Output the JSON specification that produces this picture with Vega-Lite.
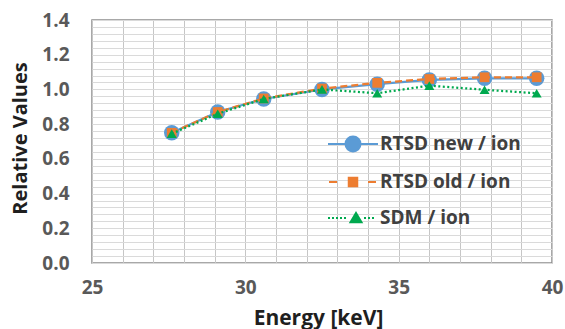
{
  "$schema": "https://vega.github.io/schema/vega-lite/v6.json",
  "width": 460,
  "height": 243,
  "autosize": "none",
  "padding": {"left": 92, "top": 20, "right": 13, "bottom": 66},
  "background": "white",
  "config": {"view": {"stroke": "#8c8c8c", "strokeWidth": 1.5}, "font": "Open Sans"},
  "data": {
    "values": [
      {"series": "RTSD new / ion", "energy": 27.6, "value": 0.75},
      {"series": "RTSD new / ion", "energy": 29.1, "value": 0.87},
      {"series": "RTSD new / ion", "energy": 30.6, "value": 0.945},
      {"series": "RTSD new / ion", "energy": 32.5, "value": 1.0},
      {"series": "RTSD new / ion", "energy": 34.3, "value": 1.03},
      {"series": "RTSD new / ion", "energy": 36.0, "value": 1.055},
      {"series": "RTSD new / ion", "energy": 37.8, "value": 1.064},
      {"series": "RTSD new / ion", "energy": 39.5, "value": 1.064},
      {"series": "RTSD old / ion", "energy": 27.6, "value": 0.75},
      {"series": "RTSD old / ion", "energy": 29.1, "value": 0.87},
      {"series": "RTSD old / ion", "energy": 30.6, "value": 0.948},
      {"series": "RTSD old / ion", "energy": 32.5, "value": 1.005},
      {"series": "RTSD old / ion", "energy": 34.3, "value": 1.038},
      {"series": "RTSD old / ion", "energy": 36.0, "value": 1.06},
      {"series": "RTSD old / ion", "energy": 37.8, "value": 1.07},
      {"series": "RTSD old / ion", "energy": 39.5, "value": 1.07},
      {"series": "SDM / ion", "energy": 27.6, "value": 0.745},
      {"series": "SDM / ion", "energy": 29.1, "value": 0.86},
      {"series": "SDM / ion", "energy": 30.6, "value": 0.945},
      {"series": "SDM / ion", "energy": 32.5, "value": 1.0},
      {"series": "SDM / ion", "energy": 34.3, "value": 0.978},
      {"series": "SDM / ion", "energy": 36.0, "value": 1.022},
      {"series": "SDM / ion", "energy": 37.8, "value": 0.998},
      {"series": "SDM / ion", "energy": 39.5, "value": 0.978}
    ]
  },
  "resolve": {"axis": {"x": "independent", "y": "independent"}},
  "encoding": {
    "x": {"field": "energy", "type": "quantitative", "scale": {"domain": [25, 40], "nice": false, "zero": false}, "axis": null},
    "y": {"field": "value", "type": "quantitative", "scale": {"domain": [0, 1.4], "nice": false}, "axis": null},
    "color": {
      "field": "series",
      "type": "nominal",
      "scale": {"domain": ["RTSD new / ion", "RTSD old / ion", "SDM / ion"], "range": ["#5B9BD5", "#ED7D31", "#00A94F"]},
      "legend": {
        "orient": "none",
        "legendX": 235,
        "legendY": 98,
        "title": null,
        "padding": 0,
        "symbolSize": 2500,
        "symbolStrokeWidth": 2,
        "labelFont": "Open Sans",
        "labelFontSize": 19,
        "labelFontWeight": "bold",
        "labelColor": "#404040",
        "labelOffset": 1,
        "rowPadding": -21,
        "encode": {
          "symbols": {
            "update": {
              "shape": {"signal": "datum.value === 'RTSD new / ion' ? 'M-1,0H1M-0.3,0A0.3,0.3 0 1,0 0.3,0A0.3,0.3 0 1,0 -0.3,0Z' : datum.value === 'RTSD old / ion' ? 'M-0.96,0H-0.64M0.6,0H0.92M-0.17,-0.17H0.17V0.17H-0.17Z' : 'M-1,0H-0.92M-0.84,0H-0.76M-0.68,0H-0.6M-0.52,0H-0.44M-0.36,0H-0.28M0.44,0H0.52M0.6,0H0.68M0.76,0H0.84M0.12,-0.2L0.34,0.17H-0.1Z'"},
              "stroke": {"signal": "scale('color', datum.value)"},
              "fill": {"signal": "scale('color', datum.value)"},
              "strokeWidth": {"value": 2},
              "strokeDash": {"value": []},
              "size": {"value": 2500},
              "opacity": {"value": 1}
            }
          }
        }
      }
    }
  },
  "layer": [
    {
      "transform": [{"filter": "datum.series === 'RTSD new / ion'"}],
      "mark": {"type": "line", "strokeWidth": 2.25},
      "encoding": {
        "x": {
          "field": "energy", "type": "quantitative", "scale": {"domain": [25, 40], "nice": false, "zero": false},
          "axis": {
            "orient": "bottom",
            "values": [25, 30, 35, 40],
            "format": "d",
            "labelFlush": false,
            "labelOverlap": false,
            "grid": true, "gridColor": "#c6c6c6",
            "ticks": false, "domain": false,
            "labelPadding": 15,
            "labelFont": "Open Sans",
            "labelFontSize": 19,
            "labelFontWeight": "bold",
            "labelColor": "#595959",
            "title": "Energy [keV]",
            "titleFont": "Open Sans",
            "titleFontSize": 21,
            "titleFontWeight": "bold",
            "titleColor": "#1f1f1f",
            "titleX": 226,
            "titleY": 55,
            "titleAlign": "center",
            "titleBaseline": "middle"
          }
        },
        "y": {
          "field": "value", "type": "quantitative", "scale": {"domain": [0, 1.4], "nice": false},
          "axis": {
            "orient": "left",
            "values": [0, 0.2, 0.4, 0.6, 0.8, 1.0, 1.2, 1.4],
            "format": ".1f",
            "labelFlush": false,
            "labelOverlap": false,
            "grid": true, "gridColor": "#d0d0d0",
            "ticks": false, "domain": false,
            "labelPadding": 23,
            "labelFont": "Open Sans",
            "labelFontSize": 19,
            "labelFontWeight": "bold",
            "labelColor": "#595959",
            "title": "Relative Values",
            "titleFont": "Open Sans",
            "titleFontSize": 20,
            "titleFontWeight": "bold",
            "titleColor": "#1f1f1f",
            "titleAngle": -90,
            "titleX": -72,
            "titleY": 118,
            "titleAlign": "center",
            "titleBaseline": "middle"
          }
        }
      }
    },
    {
      "transform": [{"filter": "datum.series === 'RTSD new / ion'"}],
      "mark": {"type": "point", "filled": true, "opacity": 1, "shape": "circle", "size": 240}
    },
    {
      "transform": [{"filter": "datum.series === 'RTSD old / ion'"}],
      "mark": {"type": "line", "strokeWidth": 2.25, "strokeDash": [7, 4]}
    },
    {
      "transform": [{"filter": "datum.series === 'RTSD old / ion'"}],
      "mark": {"type": "point", "filled": true, "opacity": 1, "shape": "square", "size": 95}
    },
    {
      "transform": [{"filter": "datum.series === 'SDM / ion'"}],
      "mark": {"type": "line", "strokeWidth": 2.25, "strokeDash": [2, 2.5]}
    },
    {
      "transform": [{"filter": "datum.series === 'SDM / ion'"}],
      "mark": {"type": "point", "filled": true, "opacity": 1, "shape": "triangle-up", "size": 100},
      "encoding": {
        "x": {
          "field": "energy", "type": "quantitative", "scale": {"domain": [25, 40], "nice": false, "zero": false},
          "axis": {
            "orient": "bottom",
            "values": [25, 26, 27, 28, 29, 30, 31, 32, 33, 34, 35, 36, 37, 38, 39, 40],
            "tickCount": 100,
            "grid": true, "gridColor": "#c6c6c6", "gridWidth": 1,
            "labels": false, "ticks": false, "domain": false, "title": null
          }
        },
        "y": {
          "field": "value", "type": "quantitative", "scale": {"domain": [0, 1.4], "nice": false},
          "axis": {
            "orient": "left",
            "values": [0, 0.04, 0.08, 0.12, 0.16, 0.2, 0.24, 0.28, 0.32, 0.36, 0.4, 0.44, 0.48, 0.52, 0.56, 0.6, 0.64, 0.68, 0.72, 0.76, 0.8, 0.84, 0.88, 0.92, 0.96, 1.0, 1.04, 1.08, 1.12, 1.16, 1.2, 1.24, 1.28, 1.32, 1.36, 1.4],
            "tickCount": 100,
            "grid": true, "gridColor": "#dadada", "gridWidth": 1,
            "labels": false, "ticks": false, "domain": false, "title": null
          }
        }
      }
    }
  ]
}
